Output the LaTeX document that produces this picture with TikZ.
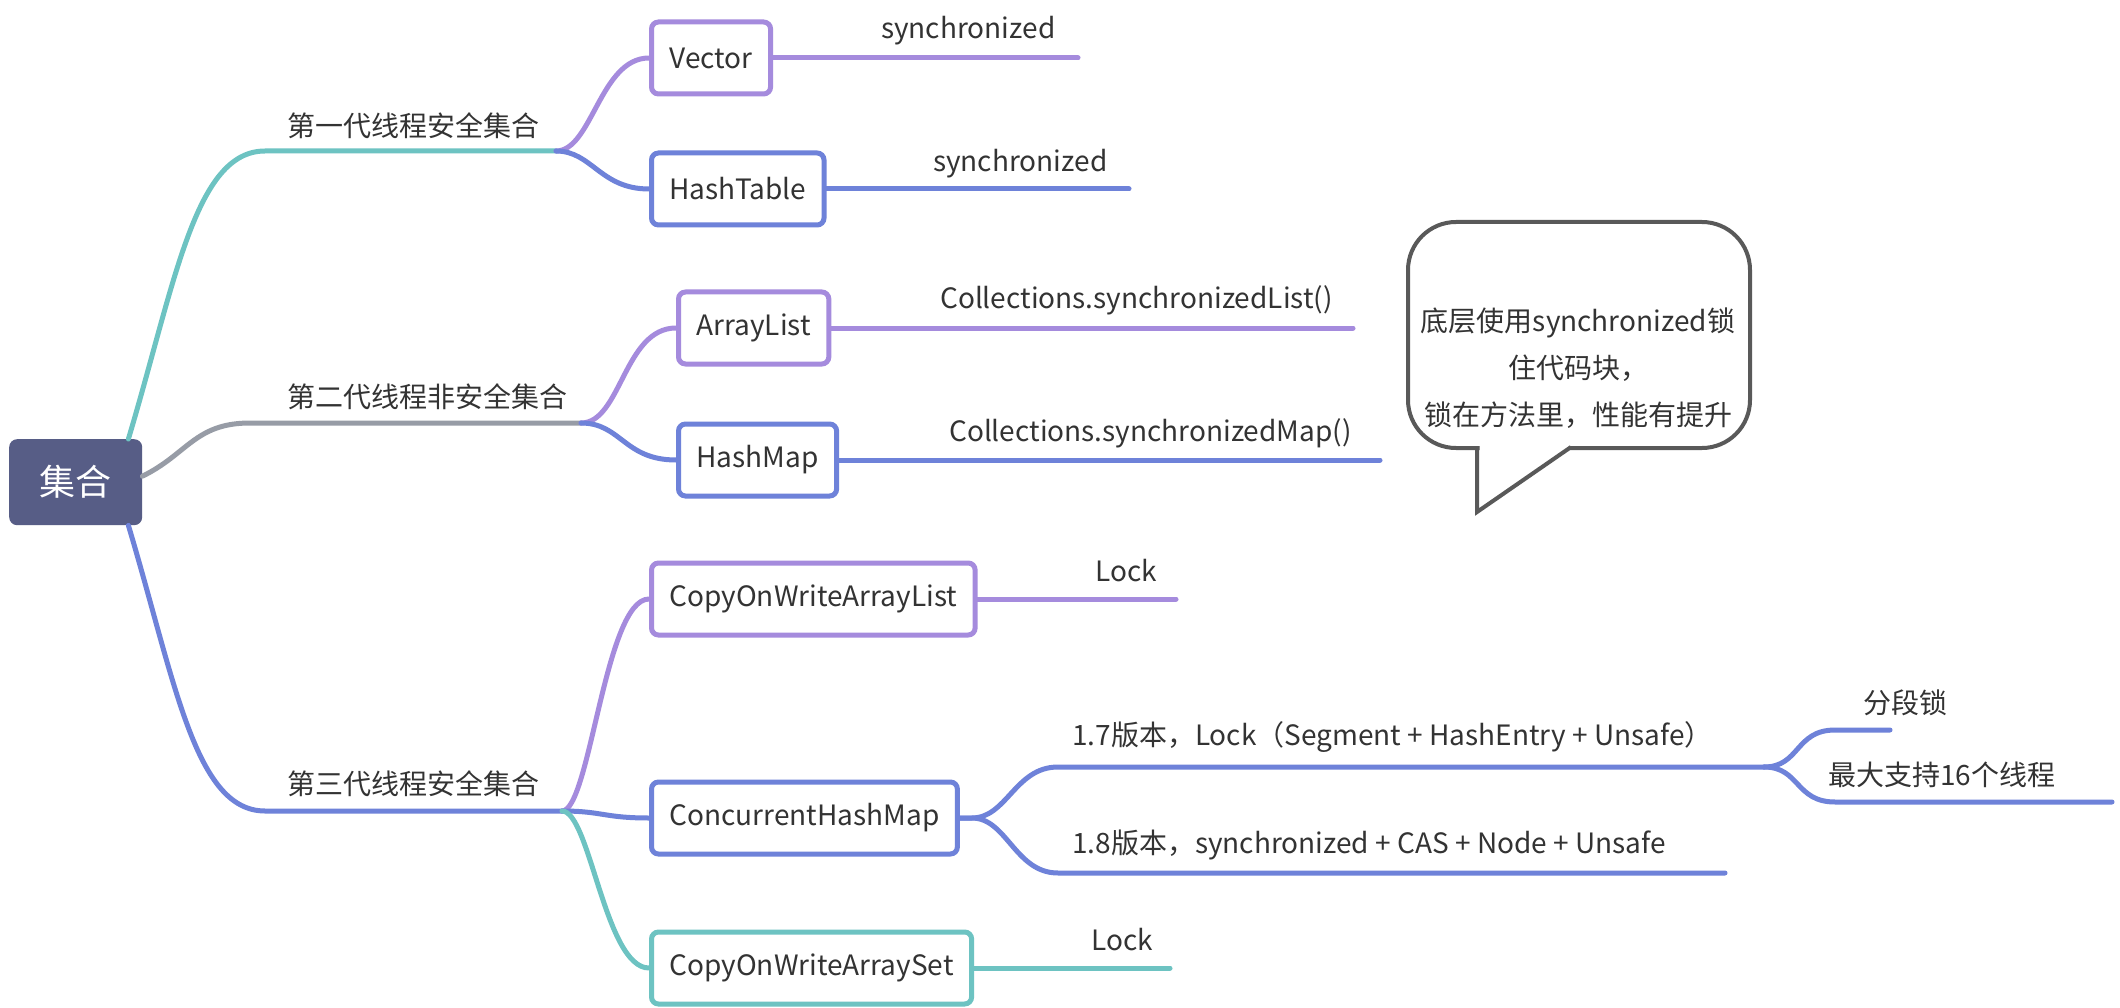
\documentclass[tikz,border=0pt]{standalone}
\usepackage{fontspec}
\setmainfont{Noto Sans CJK SC}
\definecolor{teal1}{HTML}{6DC3C2}
\definecolor{purp}{HTML}{A58BDD}
\definecolor{blu}{HTML}{6E82D9}
\definecolor{gry}{HTML}{979CA6}
\definecolor{rootc}{HTML}{575D86}
\definecolor{txt}{HTML}{333333}
\definecolor{callc}{HTML}{595959}
\begin{document}
\begin{tikzpicture}[x=1pt,y=-1pt,
  every node/.style={font=\fontsize{28}{34}\selectfont, text=txt},
  br/.style={line width=5pt, line cap=round},
  box/.style={draw, line width=5pt, rounded corners=7pt, fill=white, minimum height=72pt, inner xsep=18pt, inner ysep=0pt, anchor=west},
  lbl/.style={anchor=west, inner sep=0pt}]
\useasboundingbox[fill=white] (0,0) rectangle (2120,1008);

% root
\node[fill=rootc, rounded corners=8pt, minimum width=133pt, minimum height=86pt, anchor=north west, text=white, font=\fontsize{36}{40}\selectfont] (root) at (9,439) {集合};

% junctions
\coordinate (j1) at (556,151);
\coordinate (j2) at (581,423);
\coordinate (j3) at (562,811);

% level-1 labels
\node[lbl] (g1) at (287,126) {第一代线程安全集合};
\node[lbl] (g2) at (287,397) {第二代线程非安全集合};
\node[lbl] (g3) at (287,784) {第三代线程安全集合};

% boxes
\node[box, draw=purp] (vec) at (649,58) {Vector};
\node[box, draw=blu] (ht) at (649,189) {HashTable};
\node[box, draw=purp] (al) at (676,328) {ArrayList};
\node[box, draw=blu] (hm) at (676,460) {HashMap};
\node[box, draw=purp] (cowal) at (649,599) {CopyOnWriteArrayList};
\node[box, draw=blu] (chm) at (649,818) {ConcurrentHashMap};
\node[box, draw=teal1] (cowas) at (649,968) {CopyOnWriteArraySet};

% leaf labels
\node[lbl] (s1) at (881,31) {synchronized};
\node[lbl] (s2) at (933,164) {synchronized};
\node[lbl] (cl) at (940,300) {Collections.synchronizedList()};
\node[lbl] (cm) at (949,433) {Collections.synchronizedMap()};
\node[lbl] (lk1) at (1095,571) {Lock};
\node[lbl] (v17) at (1072,737) {1.7版本，Lock（Segment + HashEntry + Unsafe）};
\node[lbl] (v18) at (1072,845) {1.8版本，synchronized + CAS + Node + Unsafe};
\node[lbl] (fd) at (1863,703) {分段锁};
\node[lbl] (zd) at (1828,775) {最大支持16个线程};
\node[lbl] (lk2) at (1091,940) {Lock};

% line end coordinates
\coordinate (e1) at (1078,58);
\coordinate (e2) at (1129,189);
\coordinate (e3) at (1353,328);
\coordinate (e4) at (1380,460);
\coordinate (e5) at (1176,599);
\coordinate (e6) at (1170,968);
\coordinate (k17) at (1764,767);
\coordinate (e18) at (1725,873);
\coordinate (efd) at (1890,730);
\coordinate (ezd) at (2112,802);

% root branches
\draw[br, teal1] (root.north east) ++(-14,0) .. controls +(47,-157) and (195,151) .. (265,151) -- (j1);
\draw[br, gry] (root.east) ++(0,-6) .. controls +(45,-22) and (195,423) .. (250,423) -- (j2);
\draw[br, blu] (root.south east) ++(-14,0) .. controls +(47,157) and (195,811) .. (265,811) -- (j3);

% level-2 curves
\draw[br, purp] (j1) .. controls +(36,0) and ([xshift=-49pt]vec.west) .. (vec.west);
\draw[br, blu] (j1) .. controls +(36,0) and ([xshift=-49pt]ht.west) .. (ht.west);
\draw[br, purp] (j2) .. controls +(40,0) and ([xshift=-52pt]al.west) .. (al.west);
\draw[br, blu] (j2) .. controls +(40,0) and ([xshift=-52pt]hm.west) .. (hm.west);
\draw[br, purp] (j3) .. controls +(28,0) and ([xshift=-44pt]cowal.west) .. (cowal.west);
\draw[br, blu] (j3) .. controls +(40,0) and ([xshift=-45pt]chm.west) .. (chm.west);
\draw[br, teal1] (j3) .. controls +(28,0) and ([xshift=-44pt]cowas.west) .. (cowas.west);

% leaf lines
\draw[br, purp] (vec.east) -- (e1);
\draw[br, blu] (ht.east) -- (e2);
\draw[br, purp] (al.east) -- (e3);
\draw[br, blu] (hm.east) -- (e4);
\draw[br, purp] (cowal.east) -- (e5);
\draw[br, teal1] (cowas.east) -- (e6);

% ConcurrentHashMap sub-branches
\draw[br, blu] (chm.east) -- ++(12,0) .. controls +(35,0) and (1015,767) .. (1058,767) -- (k17);
\draw[br, blu] (chm.east) -- ++(12,0) .. controls +(35,0) and (1015,873) .. (1058,873) -- (e18);
\draw[br, blu] (k17) .. controls +(36,0) and (1795,730) .. (1835,730) -- (efd);
\draw[br, blu] (k17) .. controls +(36,0) and (1795,802) .. (1835,802) -- (ezd);

% callout
\node[draw=callc, line width=4pt, rounded corners=48pt, minimum width=342pt, minimum height=226pt, fill=white] (cbox) at (1579,335) {};
\fill[white] (1479.5,445) -- (1479.5,510) -- (1572,445) -- cycle;
\draw[callc, line width=4pt, line join=miter] (1477,446) -- (1477,512) -- (1571,447);
\node[align=center, font=\fontsize{28}{47}\selectfont, inner sep=0pt] (ctext) at (1578,368) {底层使用synchronized锁\\住代码块，\\锁在方法里，性能有提升};
\end{tikzpicture}
\end{document}
